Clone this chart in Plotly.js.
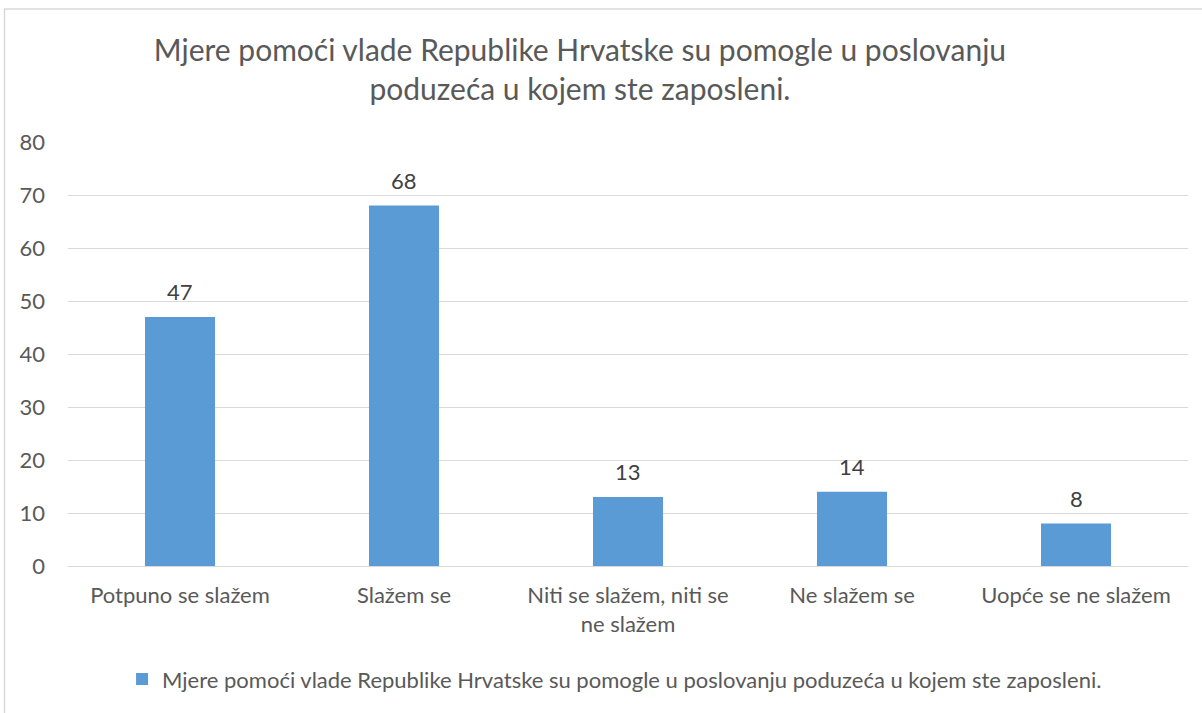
<!DOCTYPE html>
<html>
<head>
<meta charset="utf-8">
<script src="https://cdn.plot.ly/plotly-3.0.1.min.js"></script>
<style>html,body{margin:0;padding:0;background:#fff;}#chart{width:1202px;height:713px;}</style>
</head>
<body>
<div id="chart"></div>
<script>
const categories = ["Potpuno se slažem", "Slažem se", "Niti se slažem, niti se<br>ne slažem", "Ne slažem se", "Uopće se ne slažem"];
const values = [47, 68, 13, 14, 8];
const yTicks = [0, 10, 20, 30, 40, 50, 60, 70, 80];
const seriesName = "Mjere pomoći vlade Republike Hrvatske su pomogle u poslovanju poduzeća u kojem ste zaposleni.";
const titleText = "Mjere pomoći vlade Republike Hrvatske su pomogle u poslovanju<br>poduzeća u kojem ste zaposleni.";

const FONT = "Lato, 'Open Sans', sans-serif";
const GREY = "#595959";

const trace = {
  type: "bar",
  x: categories,
  y: values,
  name: seriesName,
  marker: {color: "#5B9BD5"},
  hoverinfo: "x+y"
};

const annotations = categories.map((c, i) => ({
  x: c, y: values[i], xref: "x", yref: "y",
  text: String(values[i]), showarrow: false,
  yanchor: "bottom", yshift: 10,
  font: {family: FONT, size: 22, color: "#404040"}
}));

const layout = {
  width: 1202, height: 713,
  margin: {l: 68, r: 14, t: 142, b: 147},
  paper_bgcolor: "#fff", plot_bgcolor: "#fff",
  font: {family: FONT, size: 22, color: GREY},
  title: {
    text: titleText,
    xref: "container", yref: "container",
    x: 0.4825, y: 0.914, xanchor: "center", yanchor: "middle",
    font: {family: FONT, size: 30, color: GREY}
  },
  bargap: 0.6875,
  xaxis: {
    type: "category",
    showgrid: false, zeroline: false,
    showline: false, ticks: "",
    ticklabelstandoff: 14,
    tickfont: {family: FONT, size: 22, color: GREY},
    automargin: false
  },
  yaxis: {
    range: [0, 80],
    tickvals: yTicks,
    ticktext: yTicks.map(String),
    showgrid: true, gridcolor: "#D9D9D9", gridwidth: 1.3,
    zeroline: true, zerolinecolor: "#D9D9D9", zerolinewidth: 1.3,
    showline: false, ticks: "",
    ticklabelstandoff: 22,
    tickfont: {family: FONT, size: 22, color: GREY},
    automargin: false
  },
  showlegend: true,
  legend: {
    orientation: "h",
    x: 0.488, xanchor: "center",
    y: -0.267, yanchor: "middle",
    font: {family: FONT, size: 22, color: GREY},
    itemwidth: 30
  },
  annotations: annotations,
  shapes: [
    {type: "line", xref: "paper", yref: "paper", x0: -64/1120, x1: 1134/1120, y0: 557/424, y1: 557/424,
      line: {color: "#D9D9D9", width: 1.5}},
    {type: "line", xref: "paper", yref: "paper", x0: -63.5/1120, x1: -63.5/1120, y0: 557/424, y1: -147/424,
      line: {color: "#D9D9D9", width: 1.5}}
  ]
};

Plotly.newPlot("chart", [trace], layout, {displayModeBar: false, responsive: false});
</script>
</body>
</html>
